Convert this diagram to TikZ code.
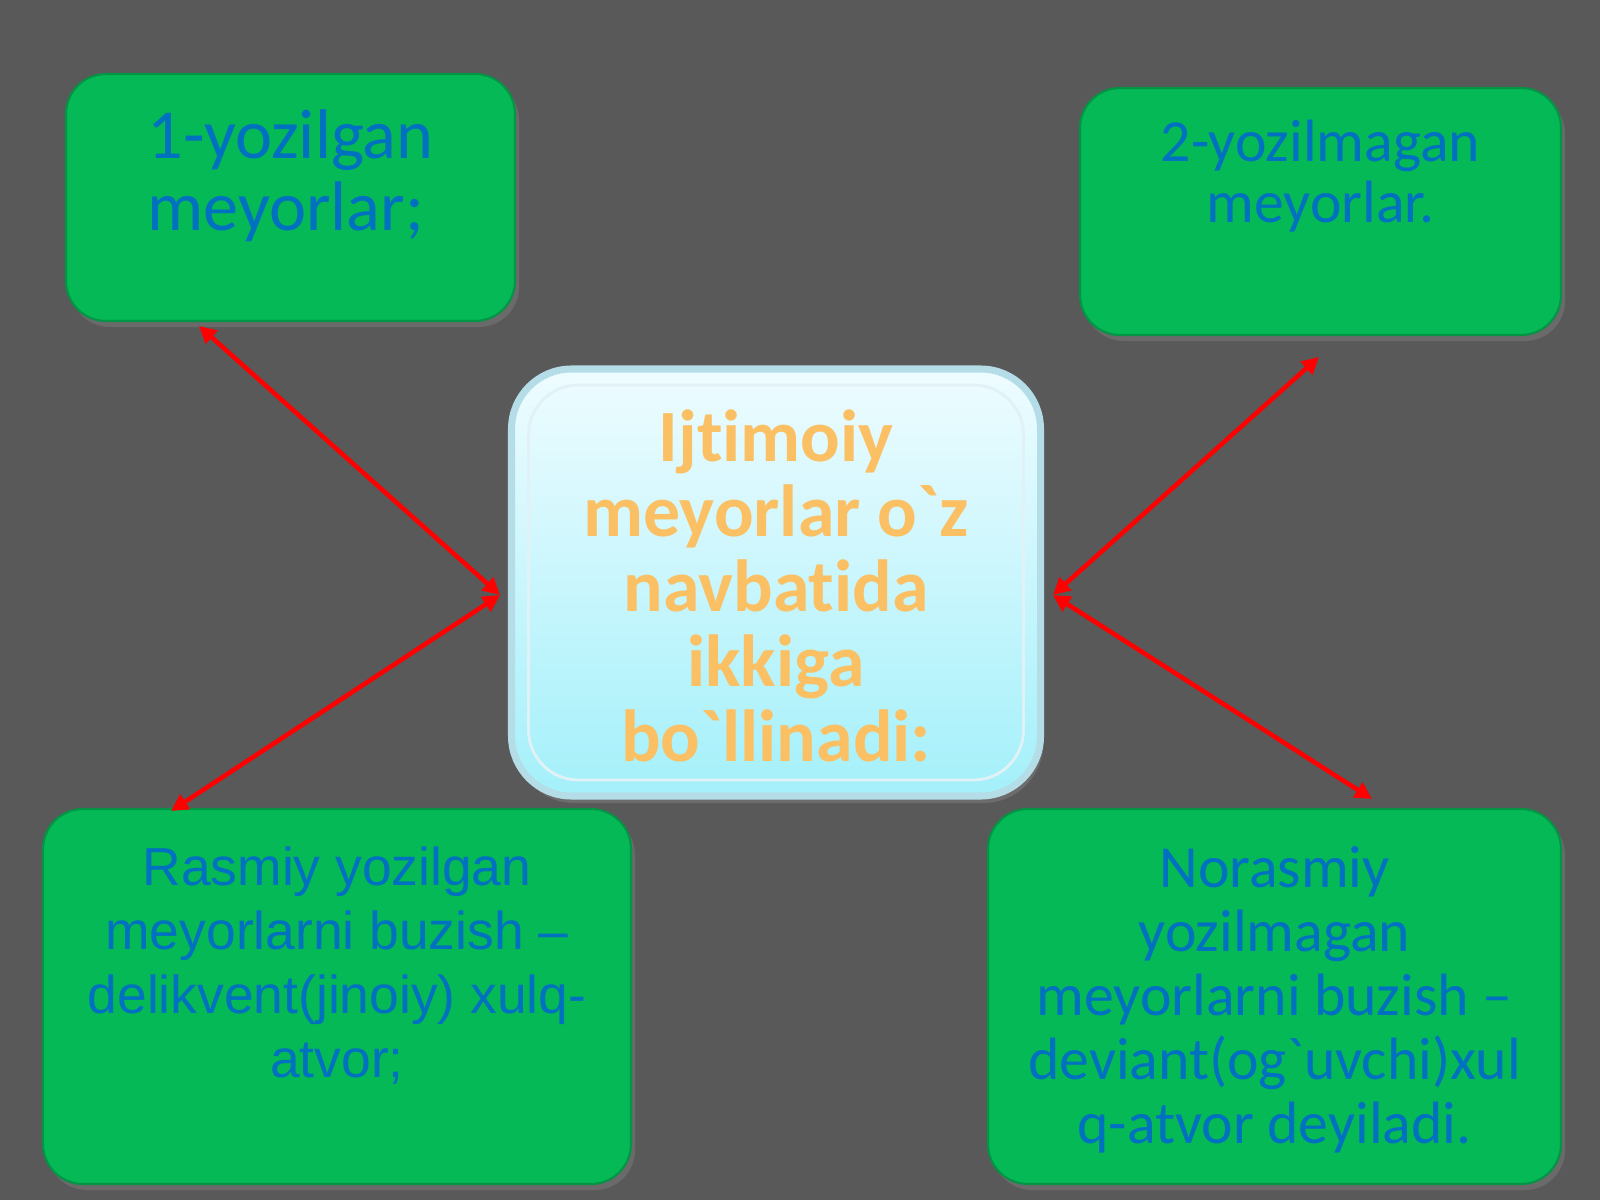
\documentclass[tikz,border=0pt]{standalone}
\usepackage{fontspec}
\usepackage{xcolor}
\usepackage{tikz}
\usetikzlibrary{positioning, arrows.meta, shadows}

\newfontfamily\calibri[Ligatures={NoCommon}]{Carlito}
\newfontfamily\arialfont{Liberation Sans}

\definecolor{slidebg}{HTML}{595959}
\definecolor{boxgreen}{HTML}{04B956}
\definecolor{txtblue}{HTML}{0070C0}
\definecolor{txtorange}{HTML}{FBC063}
\definecolor{icetop}{HTML}{EEFCFF}
\definecolor{icebot}{HTML}{A4F0FA}
\definecolor{icerim}{HTML}{B5DDE8}

\begin{document}
\begin{tikzpicture}[
    node distance=0.4cm,
    box/.style={rectangle, rounded corners=0.4cm, fill=boxgreen, draw=boxgreen!80!black, line width=0.6pt, drop shadow={shadow xshift=0.04cm, shadow yshift=-0.06cm, opacity=0.45}},
    hubbox/.style={rectangle, rounded corners=0.6cm, top color=icetop, bottom color=icebot, draw=icerim, line width=2pt, drop shadow={shadow xshift=0.03cm, shadow yshift=-0.07cm, opacity=0.5}},
    txt/.style={inner sep=0pt, align=center, text=#1},
    arrow/.style={{Triangle[length=0.17cm, width=0.17cm]}-{Triangle[length=0.17cm, width=0.17cm]}, draw=red, line width=1.3pt},
]

\fill[slidebg] (0,0) rectangle (16,12);
\useasboundingbox (0,0) rectangle (16,12);

% boxes
\node[box, minimum width=4.49cm, minimum height=2.47cm] (tl) at (2.905,10.025) {};
\node[box, minimum width=4.81cm, minimum height=2.47cm] (tr) at (13.205,9.885) {};
\node[box, minimum width=5.88cm, minimum height=3.75cm] (bl) at (3.37,2.035) {};
\node[box, minimum width=5.73cm, minimum height=3.75cm] (br) at (12.745,2.035) {};
\node[hubbox, minimum width=5.29cm, minimum height=4.27cm] (hub) at (7.76,6.175) {};
\node[rectangle, rounded corners=0.5cm, draw=white!60!icerim, line width=0.8pt, minimum width=4.95cm, minimum height=3.95cm] (hubin) at (hub) {};

% texts
\node[txt=txtblue, align=left, font={\calibri\fontsize{20}{20.5}\selectfont}, below=0.36cm of tl.north] (tltext) {1-yozilgan\\meyorlar;};
\node[txt=txtblue, font={\calibri\fontsize{17}{17.5}\selectfont}, below=0.32cm of tr.north] (trtext) {2-yozilmagan\\meyorlar.};
\node[txt=txtorange, font={\calibri\bfseries\fontsize{21}{21.3}\selectfont}, below=0.44cm of hub.north] (hubtext) {Ijtimoiy\\meyorlar o\textasciigrave z\\navbatida\\ikkiga\\bo\textasciigrave llinadi:};
\node[txt=txtblue, font={\arialfont\fontsize{15.2}{18.2}\selectfont}, below=0.38cm of bl.north] (bltext) {Rasmiy yozilgan\\meyorlarni buzish –\\delikvent(jinoiy) xulq-\\atvor;};
\node[txt=txtblue, font={\calibri\fontsize{17}{18.2}\selectfont}, below=0.38cm of br.north] (brtext) {Norasmiy\\yozilmagan\\meyorlarni buzish –\\deviant(og\textasciigrave uvchi)xul\\q-atvor deyiladi.};

% arrow ends
\coordinate (jl) at (5.00,6.05);
\coordinate (jr) at (10.53,6.05);
\coordinate (tlend) at (1.99,8.74);
\coordinate (blend) at (1.71,3.89);
\coordinate (trend) at (13.19,8.43);
\coordinate (brend) at (13.72,4.01);

\foreach \a/\b in {jl/tlend, jl/blend, jr/trend, jr/brend} {
    \draw[arrow] (\a) -- (\b);
}

\end{tikzpicture}
\end{document}
